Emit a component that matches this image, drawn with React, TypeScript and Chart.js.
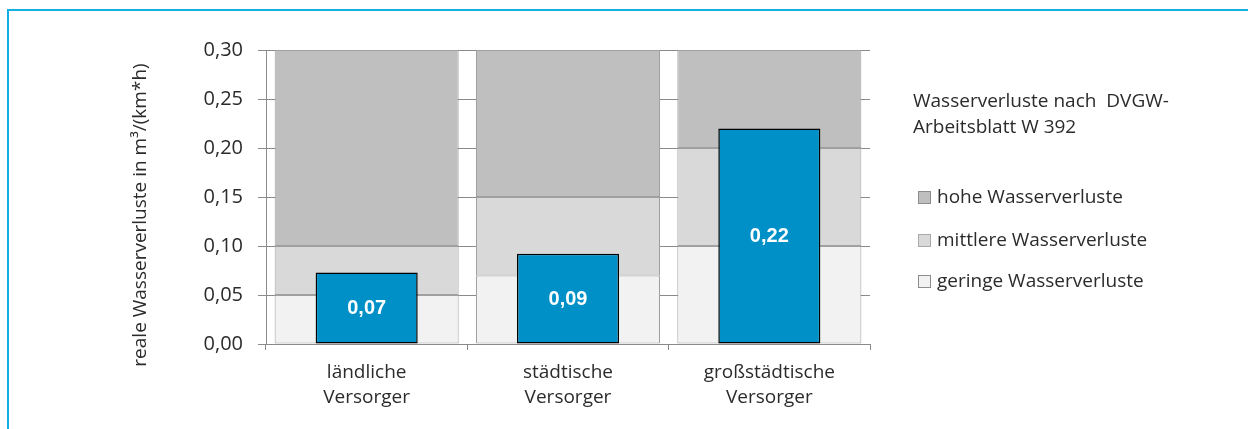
import { useEffect, useRef } from "react";
import { Chart, registerables } from "chart.js";

Chart.register(...registerables);

const categories = [
  ["ländliche", "Versorger"],
  ["städtische", "Versorger"],
  ["großstädtische", "Versorger"],
];
const geringe = [0.05, 0.07, 0.1];
const mittlere = [0.05, 0.08, 0.1];
const hohe = [0.2, 0.15, 0.1];
const realeVerluste = [0.073, 0.092, 0.22];
const valueLabels = ["0,07", "0,09", "0,22"];

const legendTitle = ["Wasserverluste nach  DVGW-", "Arbeitsblatt W 392"];
const legendNames = ["hohe Wasserverluste", "mittlere Wasserverluste", "geringe Wasserverluste"];
const legendFill = ["#BFBFBF", "#D9D9D9", "#F2F2F2"];
const legendBorder = ["#8C8C8C", "#AAAAAA", "#8C8C8C"];
const yAxisTitle = "reale Wasserverluste in m³/(km*h)";

const FONT = "'Open Sans', sans-serif";
const TEXT = "#2B2B2B";
const GRID = "#8A8A8A";

export default function App() {
  const ref = useRef<HTMLCanvasElement | null>(null);

  useEffect(() => {
    document.body.style.margin = "0";
    const canvas = ref.current;
    if (!canvas) return;

    const labelPlugin = {
      id: "labelPlugin",
      afterDatasetsDraw(chart: any) {
        const ctx = chart.ctx;
        const meta = chart.getDatasetMeta(0);
        ctx.save();
        ctx.fillStyle = "#FFFFFF";
        ctx.font = "bold 20px 'Liberation Sans', Arial, sans-serif";
        ctx.textAlign = "center";
        ctx.textBaseline = "middle";
        meta.data.forEach((bar: any, i: number) => {
          ctx.fillText(valueLabels[i], bar.x, (bar.y + bar.base) / 2 + 1);
        });
        ctx.restore();
      },
      afterDraw(chart: any) {
        const ctx = chart.ctx;
        ctx.save();
        ctx.translate(141, 215);
        ctx.rotate(-Math.PI / 2);
        ctx.fillStyle = TEXT;
        ctx.font = "19px " + FONT;
        ctx.textAlign = "center";
        ctx.textBaseline = "middle";
        ctx.fillText(yAxisTitle, 0, 0);
        ctx.restore();
      },
    };

    const bgCommon = {
      stack: "bg",
      grouped: false,
      borderColor: "#A0A0A0",
      borderWidth: 1,
      borderSkipped: false,
      barPercentage: 0.914,
      categoryPercentage: 1,
      order: 1,
    };

    const chart = new Chart(canvas, {
      type: "bar",
      data: {
        labels: categories as any,
        datasets: [
          {
            label: "reale Wasserverluste",
            data: realeVerluste,
            stack: "blue",
            grouped: false,
            backgroundColor: "#0090C8",
            borderColor: "#000000",
            borderWidth: 1.5,
            borderSkipped: false,
            barPercentage: 0.507,
            categoryPercentage: 1,
            order: 0,
          } as any,
          { ...bgCommon, label: legendNames[2], data: geringe, backgroundColor: legendFill[2] } as any,
          { ...bgCommon, label: legendNames[1], data: mittlere, backgroundColor: legendFill[1] } as any,
          { ...bgCommon, label: legendNames[0], data: hohe, backgroundColor: legendFill[0] } as any,
        ],
      },
      options: {
        responsive: false,
        maintainAspectRatio: false,
        animation: false,
        layout: { padding: { left: 166, right: 378, top: 50, bottom: 0 } },
        plugins: {
          legend: { display: false },
          tooltip: { enabled: false },
          title: { display: false },
        },
        scales: {
          x: {
            type: "category",
            stacked: true,
            offset: true,
            grid: {
              offset: true,
              drawOnChartArea: false,
              drawTicks: true,
              tickLength: 6,
              color: GRID,
            },
            border: { color: GRID, width: 1 },
            ticks: {
              color: TEXT,
              font: { family: FONT, size: 19, lineHeight: 1.33 },
              padding: 10,
              maxRotation: 0,
              autoSkip: false,
            },
            afterFit(scale: any) {
              scale.height = 85;
            },
          },
          y: {
            stacked: true,
            min: 0,
            max: 0.3,
            grid: { color: GRID, tickLength: 8, lineWidth: 1 },
            border: { color: GRID, width: 1 },
            ticks: {
              stepSize: 0.05,
              color: TEXT,
              padding: 15,
              font: { family: FONT, size: 20 },
              callback: (v: any) => Number(v).toFixed(2).replace(".", ","),
            },
            afterFit(scale: any) {
              scale.width = 100;
            },
          },
        },
      } as any,
      plugins: [labelPlugin],
    });

    return () => chart.destroy();
  }, []);

  const textStyle = {
    position: "absolute" as const,
    fontFamily: FONT,
    fontSize: 19,
    lineHeight: "26px",
    color: TEXT,
    whiteSpace: "pre" as const,
  };
  const tops = [183, 226, 267];
  const boxTops = [191, 234, 275];

  return (
    <div style={{ position: "relative", width: 1248, height: 429, overflow: "hidden", background: "#FFFFFF" }}>
      <div
        style={{
          position: "absolute",
          left: 7,
          top: 9,
          width: 1400,
          height: 600,
          borderTop: "2px solid #12AEE6",
          borderLeft: "2px solid #12AEE6",
        }}
      />
      <canvas ref={ref} width={1248} height={429} style={{ position: "absolute", left: 0, top: 0 }} />
      <div style={{ ...textStyle, left: 913, top: 87 }}>{legendTitle[0]}</div>
      <div style={{ ...textStyle, left: 913, top: 113 }}>{legendTitle[1]}</div>
      {legendNames.map((name, i) => (
        <div key={name}>
          <div
            style={{
              position: "absolute",
              left: 918,
              top: boxTops[i],
              width: 11,
              height: 11,
              background: legendFill[i],
              border: "1px solid " + legendBorder[i],
            }}
          />
          <div style={{ ...textStyle, left: 937, top: tops[i] }}>{name}</div>
        </div>
      ))}
    </div>
  );
}
